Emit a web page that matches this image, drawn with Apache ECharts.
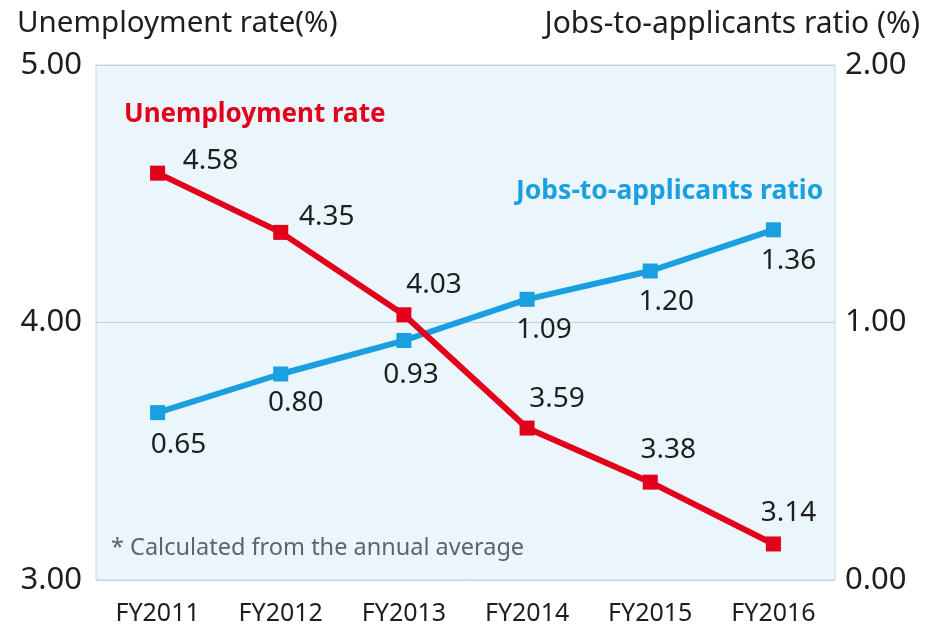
<!DOCTYPE html>
<html>
<head>
<meta charset="utf-8">
<title>Unemployment rate and jobs-to-applicants ratio</title>
<script src="https://cdn.jsdelivr.net/npm/echarts@6/dist/echarts.min.js"></script>
<style>
  html, body { margin: 0; padding: 0; background: #ffffff; }
  #chart { width: 940px; height: 633px; }
</style>
</head>
<body>
<div id="chart"></div>
<script>
// Fiscal years on the x axis
const categories = ['FY2011', 'FY2012', 'FY2013', 'FY2014', 'FY2015', 'FY2016'];
// Unemployment rate (%), left axis
const unemploymentRate = [4.58, 4.35, 4.03, 3.59, 3.38, 3.14];
// Jobs-to-applicants ratio, right axis
const jobsRatio = [0.65, 0.80, 0.93, 1.09, 1.20, 1.36];
// Tick values of the two axes
const leftTicks = [3, 4, 5];
const rightTicks = [0, 1, 2];

// Where each value label sits relative to its marker (px)
const unemploymentLabelOffsets = [[53, -12], [46, -15], [30, -30], [30, -29], [18, -32], [15, -31]];
const jobsLabelOffsets = [[21, 32], [15, 29], [7, 35], [17, 31], [16, 31], [15, 31]];

const RED = '#e3001b';
const BLUE = '#1a9fe0';
const TEXT = '#1e1e1e';
const FONT = '"Noto Sans", "Open Sans", sans-serif';

function withLabels(values, offsets) {
  return values.map((v, i) => ({
    value: v,
    label: { offset: offsets[i] }
  }));
}

const chart = echarts.init(document.getElementById('chart'), null, { renderer: 'canvas' });

chart.setOption({
  animation: false,
  textStyle: { fontFamily: FONT },
  grid: {
    left: 96, right: 105, top: 65, bottom: 53,
    show: true,
    backgroundColor: '#eaf5fc',
    borderColor: '#cdd6dd',
    borderWidth: 1
  },
  xAxis: {
    type: 'category',
    data: categories,
    boundaryGap: true,
    axisLine: { show: false },
    axisTick: { show: false },
    axisLabel: { fontSize: 25, color: TEXT, margin: 21, fontFamily: FONT }
  },
  yAxis: [
    {
      type: 'value',
      min: leftTicks[0], max: leftTicks[leftTicks.length - 1], interval: 1,
      axisLine: { show: false },
      axisTick: { show: false },
      splitLine: { show: true, lineStyle: { color: '#c6d0d8', width: 1 } },
      axisLabel: { fontSize: 31, color: TEXT, margin: 14, formatter: v => v.toFixed(2), fontFamily: FONT }
    },
    {
      type: 'value',
      min: rightTicks[0], max: rightTicks[rightTicks.length - 1], interval: 1,
      axisLine: { show: false },
      axisTick: { show: false },
      splitLine: { show: false },
      axisLabel: { fontSize: 31, color: TEXT, margin: 10, formatter: v => v.toFixed(2), fontFamily: FONT }
    }
  ],
  graphic: [
    { type: 'text', left: 17, top: 9,
      style: { text: 'Unemployment rate(%)', fontSize: 29.5, fill: TEXT, fontFamily: FONT } },
    { type: 'text', right: 20, top: 9,
      style: { text: 'Jobs-to-applicants ratio (%)', fontSize: 30, fill: TEXT, fontFamily: FONT } },
    { type: 'text', left: 124, top: 102,
      style: { text: 'Unemployment rate', fontSize: 26, fontWeight: 'bold', fill: RED, fontFamily: FONT } },
    { type: 'text', left: 516, top: 178,
      style: { text: 'Jobs-to-applicants ratio', fontSize: 26.5, fontWeight: 'bold', fill: BLUE, fontFamily: FONT } },
    { type: 'text', left: 111, top: 536,
      style: { text: '* Calculated from the annual average', fontSize: 23.5, fill: '#5f6469', fontFamily: FONT } }
  ],
  series: [
    {
      name: 'Jobs-to-applicants ratio',
      type: 'line',
      yAxisIndex: 1,
      data: withLabels(jobsRatio, jobsLabelOffsets),
      symbol: 'rect',
      symbolSize: 15,
      lineStyle: { color: BLUE, width: 6 },
      itemStyle: { color: BLUE },
      label: { show: true, position: 'inside', fontSize: 28, color: TEXT, fontFamily: FONT,
               formatter: p => p.value.toFixed(2) },
      z: 2
    },
    {
      name: 'Unemployment rate',
      type: 'line',
      yAxisIndex: 0,
      data: withLabels(unemploymentRate, unemploymentLabelOffsets),
      symbol: 'rect',
      symbolSize: 15,
      lineStyle: { color: RED, width: 6 },
      itemStyle: { color: RED },
      label: { show: true, position: 'inside', fontSize: 28, color: TEXT, fontFamily: FONT,
               formatter: p => p.value.toFixed(2) },
      z: 3
    }
  ]
});
</script>
</body>
</html>
